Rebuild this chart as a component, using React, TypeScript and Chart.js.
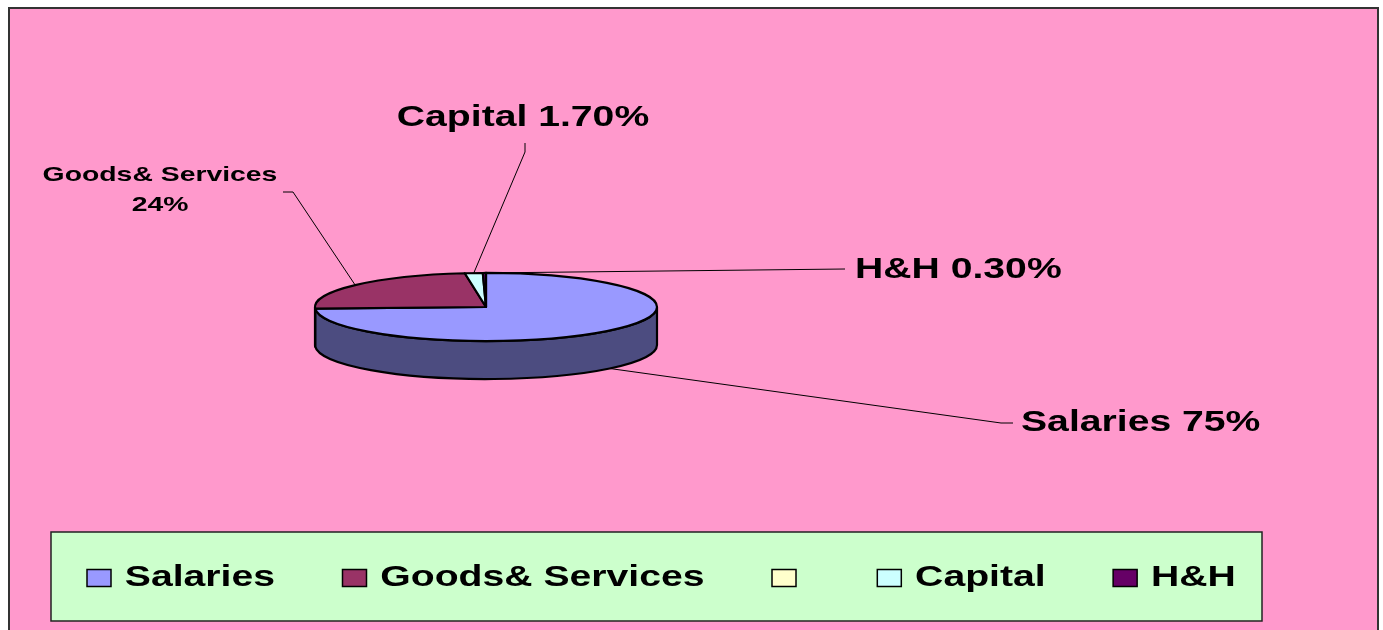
import { useEffect, useRef } from "react";
import { Chart, registerables } from "chart.js";

Chart.register(...registerables);

// ---------- data ----------
const CATEGORIES = ["Salaries", "Goods& Services", "", "Capital", "H&H"];
const VALUES = [75, 24, 0, 1.7, 0.3];
const PERCENT_LABELS = ["75%", "24%", "", "1.70%", "0.30%"];

// ---------- styles ----------
const TOP_COLORS = ["#9999FF", "#993366", "#FFFFCC", "#CCFFFF", "#660066"];
const SIDE_COLORS = ["#4C4C80", "#4D1A33", "#808066", "#668080", "#330033"];
const PAGE_BG = "#FFFFFF";
const FRAME_BG = "#FF99CC";
const FRAME_BORDER = "#333333";
const LEGEND_BG = "#CCFFCC";
const FONT = '"Liberation Sans", Arial, sans-serif';

// ---------- layout ----------
const W = 1383;
const H = 630;
const PIE_CX = 486;
const PIE_CY = 307;
const PIE_R = 171;
const TILT = 0.199; // vertical squash of the top face
const DEPTH = 38; // thickness of the 3D pie
const STRETCH = 1.35; // horizontal stretch of all text

// label placement relative to the pie centre (layout only)
const LABEL_LAYOUT: any[] = [
  { x: 535, y: 116, align: "left", size: 29, elbow: [515, 116], end: [527, 116] },
  { x: -326, y: -132, align: "center", size: 21, wrap: true, lineGap: 30, elbow: [-193, -115], end: [-203, -115] },
  null,
  { x: 37, y: -189.5, align: "center", size: 29, elbow: [39, -155], end: [39, -164] },
  { x: 369, y: -37, align: "left", size: 29, elbow: [359, -38], end: [359, -38] },
];

const LEGEND_BOX = { x: 51, y: 532, w: 1211, h: 89 };
const LEGEND_START_X = 87;
const LEGEND_CY = 578;
const LEGEND_SWATCH_W = 24;
const LEGEND_SWATCH_H = 17;
const LEGEND_TEXT_OFFSET = 37.8;
const LEGEND_GAP = 67.5;
const LEGEND_FONT_SIZE = 29;

const backgroundPlugin = {
  id: "bgFrame",
  beforeDraw(chart: any) {
    const ctx = chart.ctx;
    ctx.save();
    ctx.fillStyle = PAGE_BG;
    ctx.fillRect(0, 0, chart.width, chart.height);
    ctx.fillStyle = FRAME_BORDER;
    ctx.fillRect(8, 7, 1371, chart.height);
    ctx.fillStyle = FRAME_BG;
    ctx.fillRect(10, 9, 1367, chart.height);
    ctx.restore();
  },
};

function arcGeom(chart: any) {
  const meta = chart.getDatasetMeta(0);
  const arcs = meta.data as any[];
  if (!arcs.length) return null;
  const cx = arcs[0].x;
  const cy = arcs[0].y;
  const rx = arcs[0].outerRadius;
  const ry = rx * TILT;
  return { arcs, cx, cy, rx, ry };
}

const pie3dPlugin = {
  id: "pie3d",
  beforeDatasetsDraw(chart: any) {
    const g = arcGeom(chart);
    if (!g) return false;
    const { arcs, cx, cy, rx, ry } = g;
    const ctx = chart.ctx;
    ctx.save();
    ctx.lineWidth = 2.2;
    ctx.strokeStyle = "#000";
    ctx.lineJoin = "round";
    // side walls (front half only)
    arcs.forEach((arc: any, i: number) => {
      const s = arc.startAngle;
      const e = arc.endAngle;
      if (e - s <= 0) return;
      const a = Math.max(s, 0);
      const b = Math.min(e, Math.PI);
      if (b <= a) return;
      ctx.beginPath();
      ctx.ellipse(cx, cy, rx, ry, 0, a, b, false);
      ctx.lineTo(cx + rx * Math.cos(b), cy + DEPTH + ry * Math.sin(b));
      ctx.ellipse(cx, cy + DEPTH, rx, ry, 0, b, a, true);
      ctx.closePath();
      ctx.fillStyle = SIDE_COLORS[i];
      ctx.fill();
      ctx.stroke();
    });
    // top faces
    arcs.forEach((arc: any, i: number) => {
      const s = arc.startAngle;
      const e = arc.endAngle;
      if (e - s <= 0) return;
      ctx.beginPath();
      ctx.moveTo(cx, cy);
      ctx.ellipse(cx, cy, rx, ry, 0, s, e, false);
      ctx.closePath();
      ctx.fillStyle = TOP_COLORS[i];
      ctx.fill();
      ctx.stroke();
    });
    ctx.restore();
    return false;
  },
};

const labelsPlugin = {
  id: "pieLabels",
  afterDraw(chart: any) {
    const g = arcGeom(chart);
    if (!g) return;
    const { arcs, cx, cy, rx, ry } = g;
    const ctx = chart.ctx;
    ctx.save();
    arcs.forEach((arc: any, i: number) => {
      const lay = LABEL_LAYOUT[i];
      if (!lay || arc.endAngle - arc.startAngle <= 0) return;
      const m = (arc.startAngle + arc.endAngle) / 2;
      const front = Math.sin(m) > 0;
      const ax = cx + rx * Math.cos(m);
      const ay = cy + ry * Math.sin(m) + (front ? DEPTH : 0);
      // leader line
      ctx.beginPath();
      ctx.lineWidth = 1;
      ctx.strokeStyle = "#000";
      ctx.moveTo(ax, ay);
      ctx.lineTo(cx + lay.elbow[0], cy + lay.elbow[1]);
      ctx.lineTo(cx + lay.end[0], cy + lay.end[1]);
      ctx.stroke();
      // text
      const lines = lay.wrap
        ? [CATEGORIES[i], PERCENT_LABELS[i]]
        : [CATEGORIES[i] + " " + PERCENT_LABELS[i]];
      ctx.fillStyle = "#000";
      ctx.font = `bold ${lay.size}px ${FONT}`;
      ctx.textAlign = lay.align;
      ctx.textBaseline = "middle";
      lines.forEach((t: string, k: number) => {
        ctx.save();
        ctx.translate(cx + lay.x, cy + lay.y + k * (lay.lineGap || 0));
        ctx.scale(STRETCH, 1);
        ctx.fillText(t, 0, 0);
        ctx.restore();
      });
    });
    ctx.restore();
  },
};

const legendPlugin = {
  id: "boxLegend",
  afterDraw(chart: any) {
    const ctx = chart.ctx;
    const labels = chart.data.labels as string[];
    const colors = chart.data.datasets[0].backgroundColor as string[];
    ctx.save();
    ctx.fillStyle = LEGEND_BG;
    ctx.fillRect(LEGEND_BOX.x, LEGEND_BOX.y, LEGEND_BOX.w, LEGEND_BOX.h);
    ctx.lineWidth = 1.5;
    ctx.strokeStyle = "#222";
    ctx.strokeRect(LEGEND_BOX.x, LEGEND_BOX.y, LEGEND_BOX.w, LEGEND_BOX.h);
    ctx.font = `bold ${LEGEND_FONT_SIZE}px ${FONT}`;
    ctx.textBaseline = "middle";
    ctx.textAlign = "left";
    let x = LEGEND_START_X;
    labels.forEach((lab, i) => {
      const y0 = LEGEND_CY - LEGEND_SWATCH_H / 2;
      ctx.fillStyle = colors[i];
      ctx.fillRect(x, y0, LEGEND_SWATCH_W, LEGEND_SWATCH_H);
      ctx.lineWidth = 1.5;
      ctx.strokeStyle = "#000";
      ctx.strokeRect(x, y0, LEGEND_SWATCH_W, LEGEND_SWATCH_H);
      ctx.fillStyle = "#000";
      const tx = x + LEGEND_TEXT_OFFSET;
      ctx.save();
      ctx.translate(tx, LEGEND_CY);
      ctx.scale(STRETCH, 1);
      ctx.fillText(lab, 0, 0);
      ctx.restore();
      const tw = ctx.measureText(lab).width * STRETCH;
      x = tx + tw + LEGEND_GAP;
    });
    ctx.restore();
  },
};

export default function App() {
  const ref = useRef<HTMLCanvasElement>(null);
  useEffect(() => {
    if (!ref.current) return;
    const chart = new Chart(ref.current, {
      type: "pie",
      data: {
        labels: CATEGORIES,
        datasets: [
          {
            data: VALUES,
            backgroundColor: TOP_COLORS,
            borderWidth: 0,
          },
        ],
      },
      options: {
        responsive: false,
        maintainAspectRatio: false,
        animation: false,
        events: [],
        layout: {
          padding: {
            left: PIE_CX - PIE_R,
            right: W - (PIE_CX + PIE_R),
            top: PIE_CY - PIE_R,
            bottom: H - (PIE_CY + PIE_R),
          },
        },
        plugins: {
          legend: { display: false },
          tooltip: { enabled: false },
        },
      },
      plugins: [backgroundPlugin, pie3dPlugin, labelsPlugin, legendPlugin],
    } as any);
    return () => chart.destroy();
  }, []);
  return (
    <div
      style={{
        position: "fixed",
        left: 0,
        top: 0,
        width: W,
        height: H,
        overflow: "hidden",
        background: PAGE_BG,
      }}
    >
      <canvas ref={ref} width={W} height={H} style={{ display: "block" }} />
    </div>
  );
}
